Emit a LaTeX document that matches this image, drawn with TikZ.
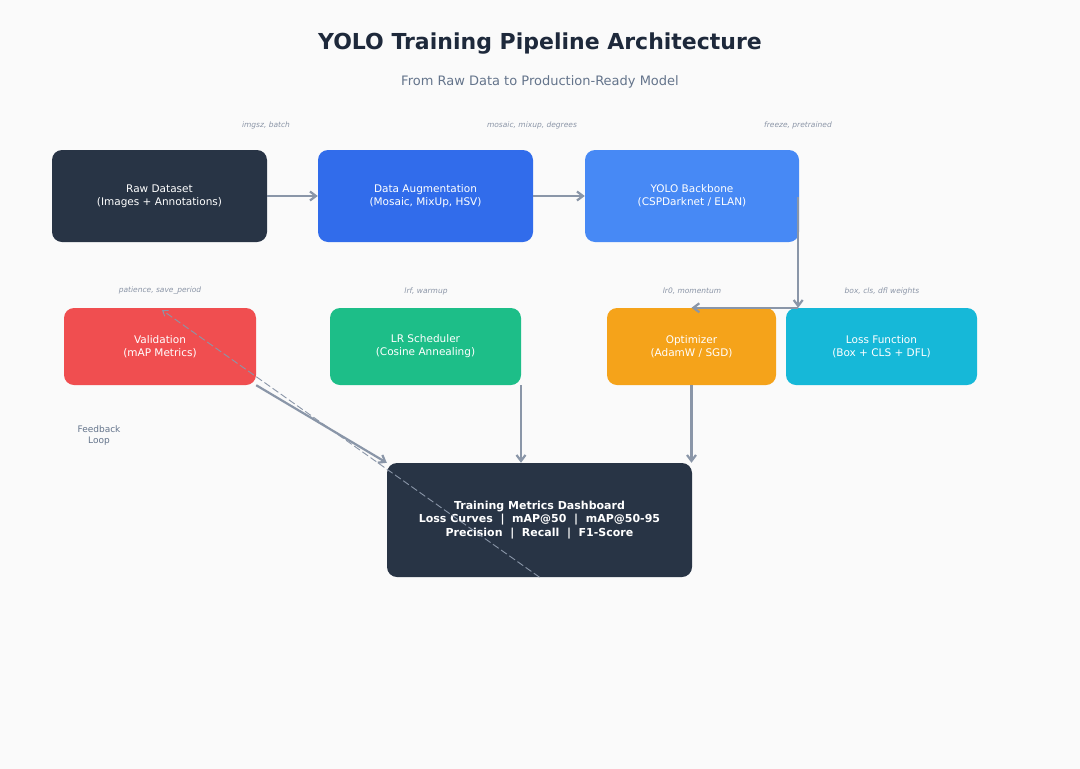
\documentclass[tikz,border=0pt]{standalone}
\usepackage{fontspec}
\setmainfont{DejaVu Sans}
\usetikzlibrary{arrows.meta}
\definecolor{bg}{HTML}{FAFAFA}
\definecolor{dark}{HTML}{283445}
\definecolor{cAug}{HTML}{316CEB}
\definecolor{cBack}{HTML}{4789F5}
\definecolor{cVal}{HTML}{F04E50}
\definecolor{cLR}{HTML}{1DBE88}
\definecolor{cOpt}{HTML}{F5A31A}
\definecolor{cLoss}{HTML}{16B8D8}
\definecolor{arr}{HTML}{8A96A8}
\definecolor{lab}{HTML}{8A94A6}
\definecolor{sub}{HTML}{64748B}
\definecolor{ttl}{HTML}{1E293B}
\begin{document}
\begin{tikzpicture}[x=1pt,y=-1pt,
 box/.style={draw=none,rounded corners=10pt,text=white,align=center,font=\fontsize{10.5}{13}\selectfont,inner sep=0pt},
 par/.style={text=lab,font=\fontsize{7.5}{9}\selectfont\itshape},
 con/.style={draw=arr,line width=2.2pt,-{Straight Barb[length=6pt,width=9pt]}}]
\fill[bg] (0,0) rectangle (1080,769);
\useasboundingbox (0,0) rectangle (1080,769);
\node[font=\fontsize{22}{26}\selectfont\bfseries,text=ttl] (title) at (540,44) {YOLO Training Pipeline Architecture};
\node[font=\fontsize{13}{16}\selectfont,text=sub] (subtitle) at (540,82) {From Raw Data to Production-Ready Model};
\node[box,fill=dark,minimum width=215pt,minimum height=92pt] (raw) at (159.5,196) {Raw Dataset\\(Images + Annotations)};
\node[box,fill=cAug,minimum width=215pt,minimum height=92pt] (aug) at (425.5,196) {Data Augmentation\\(Mosaic, MixUp, HSV)};
\node[box,fill=cBack,minimum width=214pt,minimum height=92pt] (back) at (692,196) {YOLO Backbone\\(CSPDarknet / ELAN)};
\node[box,fill=cVal,minimum width=192pt,minimum height=77pt] (val) at (160,346.5) {Validation\\(mAP Metrics)};
\node[box,fill=cLR,minimum width=191pt,minimum height=77pt] (lr) at (425.5,346.5) {LR Scheduler\\(Cosine Annealing)};
\node[box,fill=cOpt,minimum width=169pt,minimum height=77pt] (opt) at (691.5,346.5) {Optimizer\\(AdamW / SGD)};
\node[box,fill=cLoss,minimum width=191pt,minimum height=77pt] (loss) at (881.5,346.5) {Loss Function\\(Box + CLS + DFL)};
\node[box,fill=dark,minimum width=305pt,minimum height=114pt,font=\fontsize{11}{13.5}\selectfont\bfseries] (dash) at (539.5,520) {Training Metrics Dashboard\\Loss Curves \ |\ \ mAP@50 \ |\ \ mAP@50-95\\Precision \ |\ \ Recall \ |\ \ F1-Score};
\node[par] (p1) at (266,125) {imgsz, batch};
\node[par] (p2) at (532,125) {mosaic, mixup, degrees};
\node[par] (p3) at (798,125) {freeze, pretrained};
\node[par] (p4) at (160,291) {patience, save\_period};
\node[par] (p5) at (426,291) {lrf, warmup};
\node[par] (p6) at (692,291) {lr0, momentum};
\node[par] (p7) at (882,291) {box, cls, dfl weights};
\node[text=sub,align=center,font=\fontsize{9}{11}\selectfont] (fb) at (99,436) {Feedback\\Loop};
\draw[con] (raw.east) -- (aug.west);
\draw[con] (aug.east) -- (back.west);
\draw[con] ([xshift=-1pt]back.south east) ++(0,-45) coordinate (b1) -- ([xshift=-1pt]back.south east |- loss.north);
\coordinate (lt) at ([xshift=12pt]loss.north west);
\draw[con] (lt) -- (opt.north);
\draw[con] (lr.south -| 521,0) -- (dash.north -| 521,0);
\draw[con] (opt.south) -- (dash.north -| opt.south);
\draw[con] (val.south east) -- (dash.north west);
\draw[draw=arr,line width=0.9pt,dash pattern=on 7pt off 3pt,-{Straight Barb[length=5pt,width=7pt]}] (dash.south) -- (162,310);
\end{tikzpicture}
\end{document}
